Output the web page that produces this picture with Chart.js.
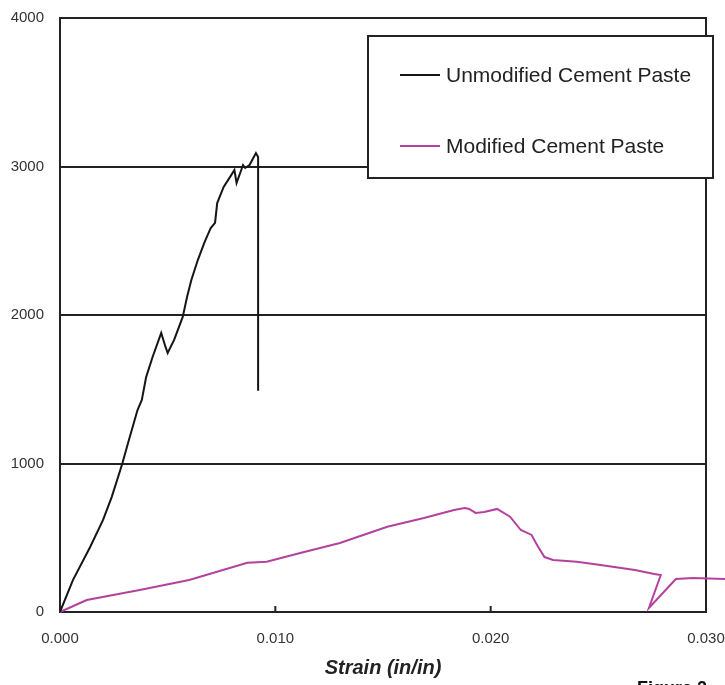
<!DOCTYPE html>
<html>
<head>
<meta charset="utf-8">
<script src="https://cdn.jsdelivr.net/npm/chart.js@4.4.1/dist/chart.umd.min.js"></script>
<style>
  html, body { margin: 0; padding: 0; background: #fff; }
</style>
</head>
<body>
<canvas id="chart" width="725" height="685"></canvas>
<script>
// values
const seriesNames = ["Unmodified Cement Paste", "Modified Cement Paste"];

const unmodStrain = [0, 0.0006, 0.0014, 0.0020, 0.0024, 0.0028, 0.0029, 0.0032, 0.0036, 0.0038, 0.0040,
  0.0043, 0.0047, 0.0049, 0.0050, 0.0053, 0.0057, 0.0059, 0.0061, 0.0064, 0.0067, 0.0070, 0.0072,
  0.0073, 0.0076, 0.0079, 0.0081, 0.0082, 0.0085, 0.0086, 0.0088, 0.0091, 0.0092, 0.0092];
const unmodStress = [0, 215, 438, 620, 774, 956, 1003, 1158, 1360, 1428, 1582,
  1717, 1879, 1785, 1744, 1832, 1987, 2121, 2236, 2370, 2485, 2586, 2620,
  2754, 2862, 2930, 2976, 2889, 3010, 2990, 3010, 3090, 3064, 1490];

const modStrain = [0, 0.00124, 0.0037, 0.0060, 0.0087, 0.0096, 0.0112, 0.0130, 0.0152, 0.0169, 0.0183,
  0.0188, 0.0190, 0.0193, 0.0197, 0.0203, 0.0209, 0.0214, 0.0219, 0.0222, 0.0225, 0.0229, 0.0240,
  0.0251, 0.0267, 0.0276, 0.0279, 0.02735, 0.0286, 0.0294, 0.0309];
const modStress = [0, 81, 148, 215, 332, 339, 399, 465, 574, 633, 687,
  700, 694, 667, 673, 694, 642, 552, 519, 440, 370, 350, 339,
  316, 283, 256, 249, 27, 222, 229, 222];

const xTicks = [0, 0.010, 0.020, 0.030];
const yTicks = [0, 1000, 2000, 3000, 4000];

const unmodColor = "#151515";
const modColor = "#b4419f";
const ink = "#222";
const fontFamily = "'Liberation Sans', Arial, sans-serif";

const toPoints = (xs, ys) => xs.map((x, i) => ({ x, y: ys[i] }));

// right frame + small inward ticks on the strain axis
const framePlugin = {
  id: "frame",
  beforeDatasetsDraw(chart) {
    const { ctx, chartArea: a, scales } = chart;
    ctx.save();
    ctx.strokeStyle = ink;
    ctx.lineWidth = 2;
    ctx.beginPath();
    ctx.moveTo(a.right, a.top - 1);
    ctx.lineTo(a.right, a.bottom + 1);
    ctx.stroke();
    for (const v of xTicks.slice(1, -1)) {
      const px = scales.x.getPixelForValue(v);
      ctx.beginPath();
      ctx.moveTo(px, a.bottom);
      ctx.lineTo(px, a.bottom - 6);
      ctx.stroke();
    }
    ctx.restore();
  }
};

// boxed legend inside the plot, plus the cut-off caption
const boxLegend = {
  id: "boxLegend",
  afterDraw(chart) {
    const ctx = chart.ctx;
    ctx.save();
    ctx.fillStyle = "#fff";
    ctx.fillRect(368, 36, 345, 142);
    ctx.strokeStyle = ink;
    ctx.lineWidth = 2;
    ctx.strokeRect(368, 36, 345, 142);
    chart.data.datasets.forEach((ds, i) => {
      const y = 75 + i * 71;
      ctx.strokeStyle = ds.borderColor;
      ctx.lineWidth = 2;
      ctx.beginPath();
      ctx.moveTo(400, y);
      ctx.lineTo(440, y);
      ctx.stroke();
      ctx.fillStyle = ink;
      ctx.font = `21px ${fontFamily}`;
      ctx.textBaseline = "middle";
      ctx.fillText(ds.label, 446, y + 1);
    });
    ctx.font = `bold 18px ${fontFamily}`;
    ctx.textBaseline = "alphabetic";
    ctx.fillStyle = "#111";
    ctx.fillText("Figure 2", 637, 694);
    ctx.restore();
  }
};

new Chart(document.getElementById("chart"), {
  type: "scatter",
  data: {
    datasets: [
      {
        label: seriesNames[0],
        data: toPoints(unmodStrain, unmodStress),
        showLine: true,
        borderColor: unmodColor,
        borderWidth: 2,
        pointRadius: 0,
        tension: 0
      },
      {
        label: seriesNames[1],
        data: toPoints(modStrain, modStress),
        showLine: true,
        borderColor: modColor,
        borderWidth: 2,
        pointRadius: 0,
        tension: 0,
        clip: { left: 5, top: 5, right: false, bottom: 5 }
      }
    ]
  },
  options: {
    responsive: false,
    animation: false,
    devicePixelRatio: 1,
    layout: { padding: { left: 0, right: 19, top: 18, bottom: 0 } },
    plugins: { legend: { display: false }, tooltip: { enabled: false } },
    scales: {
      x: {
        type: "linear",
        min: 0,
        max: 0.03,
        afterBuildTicks: s => { s.ticks = xTicks.map(v => ({ value: v })); },
        afterFit: s => { s.height = 73; s.paddingLeft = 0; s.paddingRight = 0; },
        grid: { display: false, drawTicks: false },
        border: { color: ink, width: 2 },
        ticks: {
          padding: 18,
          maxRotation: 0,
          color: "#333",
          font: { family: fontFamily, size: 15 },
          callback: v => Number(v).toFixed(3)
        },
        title: {
          display: true,
          text: "Strain (in/in)",
          color: ink,
          font: { family: fontFamily, size: 20, weight: "bold", style: "italic" },
          padding: { top: 0, bottom: 5 }
        }
      },
      y: {
        min: 0,
        max: 4000,
        afterBuildTicks: s => { s.ticks = yTicks.map(v => ({ value: v })); },
        afterFit: s => { s.width = 60; s.paddingTop = 0; s.paddingBottom = 0; },
        grid: { color: ink, lineWidth: 2, drawTicks: false },
        border: { color: ink, width: 2 },
        ticks: {
          padding: 16,
          color: "#333",
          font: { family: fontFamily, size: 15 },
          callback: v => String(v)
        }
      }
    }
  },
  plugins: [framePlugin, boxLegend]
});
</script>
</body>
</html>
